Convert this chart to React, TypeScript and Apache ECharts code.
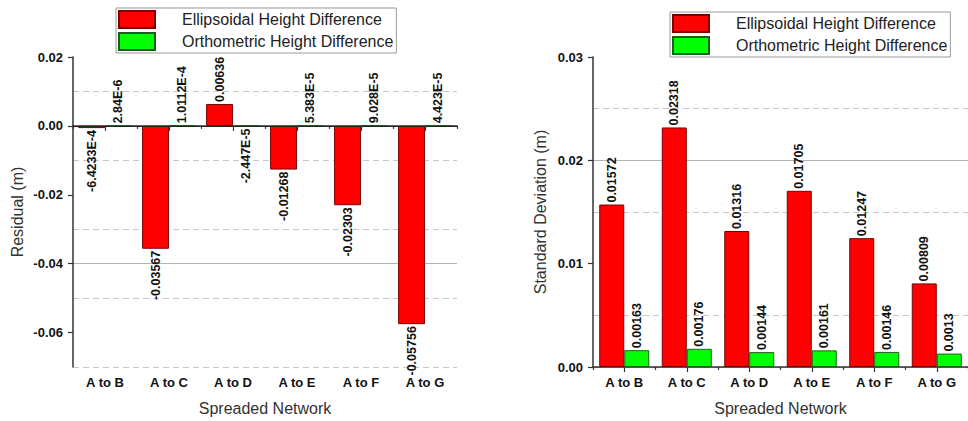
import React, { useEffect, useRef } from "react";
import * as echarts from "echarts";

const categories = ["A to B", "A to C", "A to D", "A to E", "A to F", "A to G"];
const seriesNames = ["Ellipsoidal Height Difference", "Orthometric Height Difference"];

const residualEllipsoidal = [-0.00064233, -0.03567, 0.00636, -0.01268, -0.02303, -0.05756];
const residualOrthometric = [0.00000284, 0.00010112, -0.00002447, 0.00005383, 0.00009028, 0.00004423];

const sdEllipsoidal = [0.01572, 0.02318, 0.01316, 0.01705, 0.01247, 0.00809];
const sdOrthometric = [0.00163, 0.00176, 0.00144, 0.00161, 0.00146, 0.0013];

const residualTicks = [-0.06, -0.04, -0.02, 0, 0.02];
const sdTicks = [0, 0.01, 0.02, 0.03];

const FONT = "'Liberation Sans', Arial, Helvetica, sans-serif";
const NONE = "rgba(0,0,0,0)";
const SOLID_GRID = "#b4b4b4";
const DASH_GRID = "#c8c8c8";
const AXIS_COLOR = "#333";

function fmtValue(v: number): string {
  if (v !== 0 && Math.abs(v) < 0.001) {
    return v.toExponential().toUpperCase();
  }
  return String(v);
}

function barData(values: number[]) {
  return values.map((v) =>
    v >= 0
      ? { value: v, label: { position: "top", align: "left" } }
      : { value: v, label: { position: "bottom", align: "right" } }
  );
}

const barLabel = {
  show: true,
  rotate: 90,
  verticalAlign: "middle",
  distance: 2,
  fontSize: 12.5,
  fontWeight: "bold",
  color: "#111",
  fontFamily: FONT,
  formatter: (p: any) => fmtValue(p.value),
};

function tickFmt(v: number) {
  const x = Math.abs(v) < 1e-9 ? 0 : v;
  return x.toFixed(2);
}

function categoryAxes(gridIndex: number) {
  return [
    {
      type: "category",
      gridIndex,
      data: categories,
      position: "bottom",
      axisLine: { show: true, lineStyle: { color: AXIS_COLOR, width: 1.5 } },
      axisTick: { show: true, alignWithLabel: true, length: 5, lineStyle: { color: AXIS_COLOR, width: 1.2 } },
      axisLabel: { fontSize: 13, fontWeight: "bold", color: "#111", margin: 9, fontFamily: FONT },
      splitLine: { show: false },
      name: "Spreaded Network",
      nameLocation: "middle",
      nameGap: 33,
      nameTextStyle: { fontSize: 16, color: "#333", fontFamily: FONT },
    },
    {
      type: "category",
      gridIndex,
      data: categories,
      position: "bottom",
      axisLine: { show: false },
      axisTick: { show: true, alignWithLabel: false, length: 3, lineStyle: { color: AXIS_COLOR, width: 1.2 } },
      axisLabel: { show: false },
      splitLine: { show: false },
    },
  ];
}

function legendAt(left: number, top: number) {
  return {
    left,
    top,
    orient: "vertical",
    icon: "rect",
    itemWidth: 36,
    itemHeight: 17,
    itemGap: 3,
    padding: [2, 3, 2, 2],
    borderColor: "#9a9a9a",
    borderWidth: 1,
    selectedMode: false,
    data: seriesNames,
    textStyle: { fontSize: 16, color: "#222", fontFamily: FONT, padding: [0, 0, 0, 22] },
  };
}

export default function App() {
  const ref = useRef<HTMLDivElement>(null);

  useEffect(() => {
    if (!ref.current) return;
    const chart = echarts.init(ref.current, null, { renderer: "svg" });

    const option: any = {
      animation: false,
      backgroundColor: "#ffffff",
      textStyle: { fontFamily: FONT },
      legend: [legendAt(116, 8), legendAt(670, 12)],
      grid: [
        { left: 73, top: 57, width: 384, height: 310 },
        { left: 593, top: 57, width: 384, height: 310 },
      ],
      xAxis: [...categoryAxes(0), ...categoryAxes(1)],
      yAxis: [
        {
          type: "value",
          gridIndex: 0,
          min: -0.07,
          max: 0.02,
          interval: 0.01,
          axisLine: { show: true, lineStyle: { color: AXIS_COLOR, width: 1.5 } },
          axisTick: { show: true, length: 5, customValues: residualTicks, lineStyle: { color: AXIS_COLOR, width: 1.2 } },
          axisLabel: {
            customValues: residualTicks,
            formatter: tickFmt,
            fontSize: 13,
            fontWeight: "bold",
            color: "#111",
            margin: 10,
            fontFamily: FONT,
          },
          splitLine: { show: true, showMaxLine: false, lineStyle: { color: [NONE, SOLID_GRID], width: 1 } },
          name: "Residual (m)",
          nameLocation: "middle",
          nameGap: 48,
          nameTextStyle: { fontSize: 16, color: "#333", fontFamily: FONT },
        },
        {
          type: "value",
          gridIndex: 0,
          min: -0.07,
          max: 0.02,
          interval: 0.01,
          axisLine: { show: false },
          axisTick: { show: false },
          axisLabel: { show: false },
          splitLine: { show: true, lineStyle: { color: [DASH_GRID, NONE], type: [6, 4], width: 1 } },
        },
        {
          type: "value",
          gridIndex: 1,
          min: 0,
          max: 0.03,
          interval: 0.005,
          axisLine: { show: true, lineStyle: { color: AXIS_COLOR, width: 1.5 } },
          axisTick: { show: true, length: 5, customValues: sdTicks, lineStyle: { color: AXIS_COLOR, width: 1.2 } },
          axisLabel: {
            customValues: sdTicks,
            formatter: tickFmt,
            fontSize: 13,
            fontWeight: "bold",
            color: "#111",
            margin: 10,
            fontFamily: FONT,
          },
          splitLine: { show: true, showMaxLine: false, lineStyle: { color: [SOLID_GRID, NONE], width: 1 } },
          name: "Standard Deviation (m)",
          nameLocation: "middle",
          nameGap: 45,
          nameTextStyle: { fontSize: 16, color: "#333", fontFamily: FONT },
        },
        {
          type: "value",
          gridIndex: 1,
          min: 0,
          max: 0.03,
          interval: 0.005,
          axisLine: { show: false },
          axisTick: { show: false },
          axisLabel: { show: false },
          splitLine: { show: true, lineStyle: { color: [NONE, DASH_GRID], type: [6, 4], width: 1 } },
        },
      ],
      series: [
        {
          name: seriesNames[0],
          type: "bar",
          xAxisIndex: 0,
          yAxisIndex: 0,
          data: barData(residualEllipsoidal),
          itemStyle: { color: "#ff0000", borderColor: "#7a0000", borderWidth: 1 },
          barGap: "0%",
          barCategoryGap: "16%",
          label: barLabel,
          markLine: {
            silent: true,
            symbol: ["none", "none"],
            label: { show: false },
            lineStyle: { color: "#222", type: "solid", width: 1 },
            data: [{ yAxis: 0 }],
          },
        },
        {
          name: seriesNames[1],
          type: "bar",
          xAxisIndex: 0,
          yAxisIndex: 0,
          data: barData(residualOrthometric),
          itemStyle: { color: "#00ff00", borderColor: "#1d5e1d", borderWidth: 1 },
          barGap: "0%",
          barCategoryGap: "16%",
          label: barLabel,
        },
        {
          name: seriesNames[0],
          type: "bar",
          xAxisIndex: 2,
          yAxisIndex: 2,
          data: barData(sdEllipsoidal),
          itemStyle: { color: "#ff0000", borderColor: "#7a0000", borderWidth: 1 },
          barGap: "0%",
          barCategoryGap: "20%",
          label: barLabel,
        },
        {
          name: seriesNames[1],
          type: "bar",
          xAxisIndex: 2,
          yAxisIndex: 2,
          data: barData(sdOrthometric),
          itemStyle: { color: "#00ff00", borderColor: "#1d5e1d", borderWidth: 1 },
          barGap: "0%",
          barCategoryGap: "20%",
          label: barLabel,
        },
      ],
    };

    chart.setOption(option);
    return () => chart.dispose();
  }, []);

  return (
    <div
      ref={ref}
      style={{ position: "fixed", left: 0, top: 0, width: 968, height: 421, background: "#fff" }}
    />
  );
}
